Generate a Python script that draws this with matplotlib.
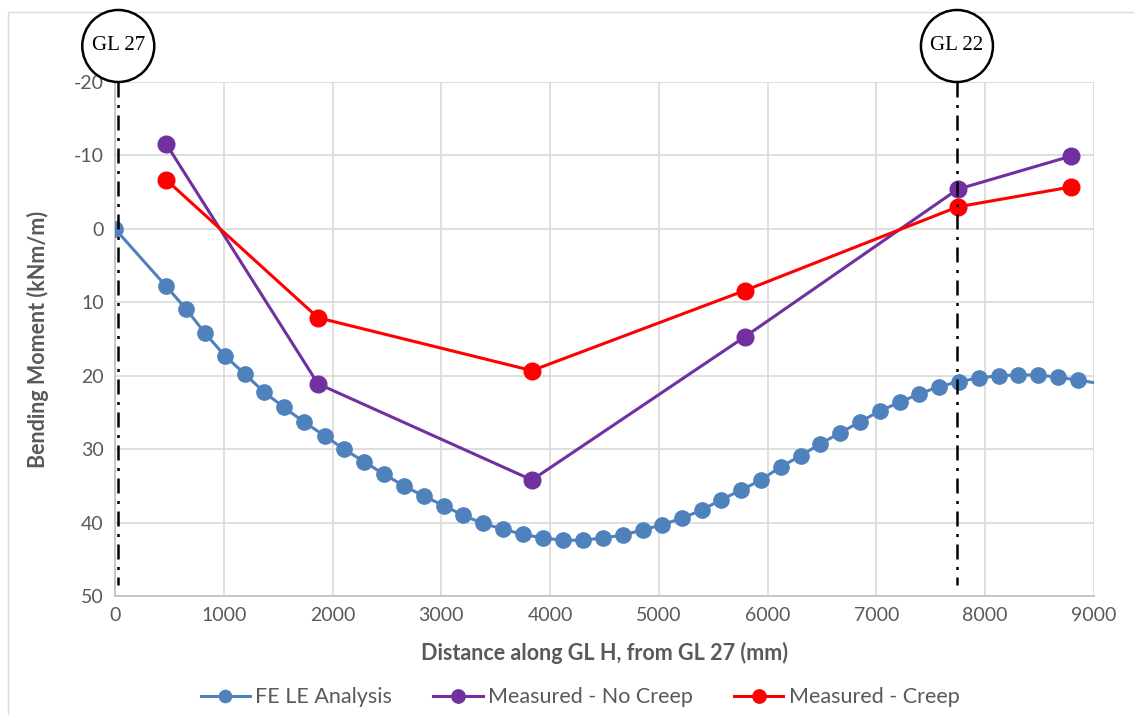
import matplotlib.pyplot as plt
from matplotlib.patches import Circle, Rectangle

# FE LE analysis (blue)
fe_x = [0, 469, 653, 827, 1011, 1195, 1369, 1553, 1737, 1930, 2105, 2289, 2472,
        2656, 2840, 3024, 3199, 3382, 3566, 3750, 3934, 4118, 4301, 4485, 4669,
        4853, 5028, 5211, 5395, 5570, 5754, 5938, 6121, 6305, 6480, 6664, 6847,
        7031, 7215, 7390, 7574, 7757, 7941, 8125, 8300, 8483, 8667, 8851, 9200]
fe_y = [0, 7.8, 10.9, 14.2, 17.3, 19.8, 22.2, 24.3, 26.3, 28.2, 30.0, 31.7, 33.4,
        35.0, 36.4, 37.7, 39.0, 40.1, 40.9, 41.6, 42.1, 42.4, 42.4, 42.1, 41.7,
        41.0, 40.3, 39.4, 38.3, 36.9, 35.6, 34.2, 32.4, 30.9, 29.3, 27.8, 26.3,
        24.8, 23.6, 22.5, 21.5, 20.8, 20.3, 20.0, 19.9, 19.9, 20.2, 20.6, 21.4]

meas_x = [469, 1866, 3833, 5790, 7748, 8787]
no_creep_y = [-11.6, 21.1, 34.2, 14.7, -5.4, -9.9]
creep_y = [-6.7, 12.1, 19.3, 8.4, -3.0, -5.7]

grid_lines = [30, 7740]
grid_names = ["GL 27", "GL 22"]

plt.rcParams['font.family'] = ['Lato', 'DejaVu Sans']
plt.rcParams['axes.unicode_minus'] = False

fig = plt.figure(figsize=(11.34, 7.15), dpi=100)

# outer chart border
fig.add_artist(Rectangle((8 / 1134, -0.01), 1.0, 1 - 12 / 715 + 0.01,
                         transform=fig.transFigure, fill=False,
                         edgecolor='#d9d9d9', linewidth=1))

ax = fig.add_axes([115 / 1134, 1 - 596 / 715, 979 / 1134, 514 / 715])

ax.plot(fe_x, fe_y, color='#4f81bd', marker='o', markersize=11, linewidth=2.2,
        label='FE LE Analysis', zorder=3)
ax.plot(meas_x, no_creep_y, color='#7030a0', marker='o', markersize=12,
        linewidth=2.2, label='Measured - No Creep', zorder=4)
ax.plot(meas_x, creep_y, color='#ff0000', marker='o', markersize=12,
        linewidth=2.2, label='Measured - Creep', zorder=5)

ax.set_xlim(0, 9000)
ax.set_ylim(50, -20)
ax.set_xticks(range(0, 9001, 1000))
ax.set_yticks(range(-20, 51, 10))
ax.grid(True, color='#d9d9d9', linewidth=1.2)
ax.set_axisbelow(True)
for s in ['top', 'right']:
    ax.spines[s].set_visible(False)
for s in ['left', 'bottom']:
    ax.spines[s].set_color('#bfbfbf')
    ax.spines[s].set_linewidth(1.2)
ax.tick_params(length=0, labelsize=14, labelcolor='#595959', pad=8)

ax.set_xlabel('Distance along GL H, from GL 27 (mm)', fontsize=15.5,
              fontweight='bold', color='#595959', labelpad=13)
ax.set_ylabel('Bending Moment (kNm/m)', fontsize=15.5, fontweight='bold',
              color='#595959', labelpad=18)

# grid line markers
fig.canvas.draw()
for gx, name in zip(grid_lines, grid_names):
    ax.plot([gx, gx], [-20, 48.5], color='black', linestyle=(0, (6, 3, 1.2, 3)),
            linewidth=1.8, zorder=6, clip_on=False)
    px, py = ax.transData.transform((gx, -20))
    cx, cy = px, py + 36
    fig.add_artist(Circle((cx, cy), 36, transform=None,
                          fill=True, facecolor='white', edgecolor='black',
                          linewidth=1.8, zorder=7))
    fig.text(cx / 1134, cy / 715, name, ha='center', va='center',
             fontsize=15, family='Liberation Serif', zorder=8)

ax.legend(loc='upper center', bbox_to_anchor=(0.475, -0.14), ncol=3,
          frameon=False, fontsize=15.5, labelcolor='#595959',
          handlelength=2.3, columnspacing=1.9, handletextpad=0.25,
          markerscale=0.8)

fig.savefig('out.png', dpi=100)
